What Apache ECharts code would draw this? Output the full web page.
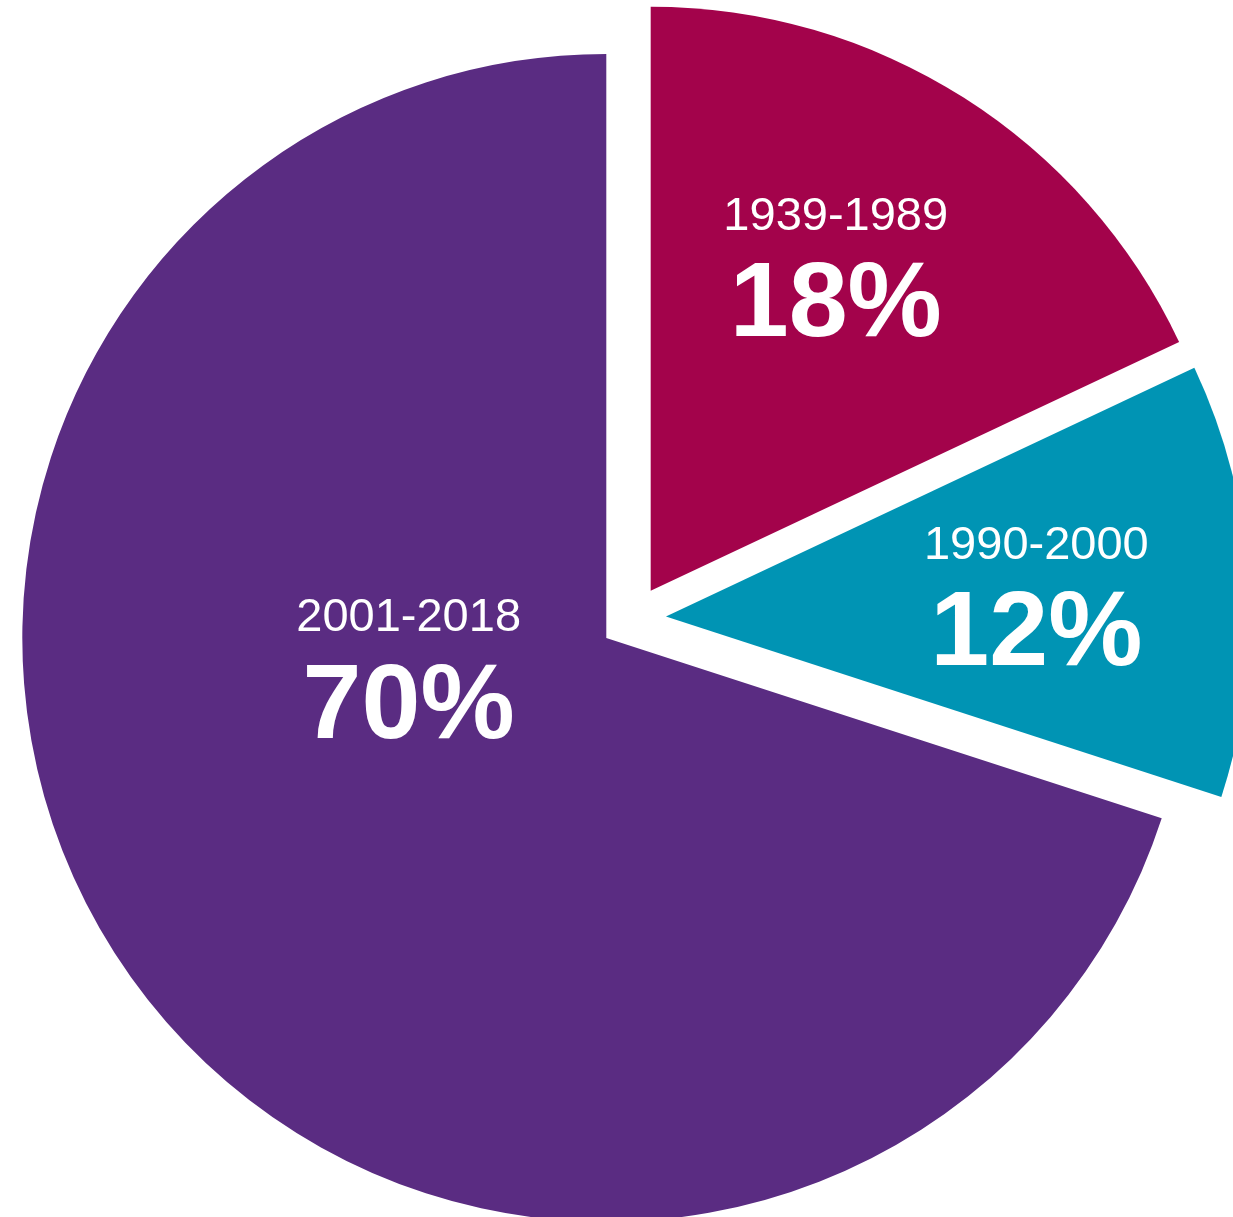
<!DOCTYPE html>
<html>
<head>
<meta charset="utf-8">
<script src="https://cdn.jsdelivr.net/npm/echarts@6/dist/echarts.min.js"></script>
<style>
html,body{margin:0;padding:0;background:#fff;}
#chart{width:1233px;height:1217px;}
</style>
</head>
<body>
<div id="chart"></div>
<script>
const categories = ['1939-1989', '1990-2000', '2001-2018'];
const values = [18, 12, 70];
const colors = ['#A3034B', '#0094B4', '#5A2C82'];
const labelShift = [[27, -60], [76, 13], [41, -128]];

const chart = echarts.init(document.getElementById('chart'), null, {renderer: 'canvas'});
chart.setOption({
  animation: false,
  series: [{
    type: 'pie',
    center: [633, 618.5],
    radius: 584,
    startAngle: 90,
    clockwise: true,
    selectedMode: 'multiple',
    selectedOffset: 33,
    emphasis: {disabled: true},
    select: {itemStyle: {}},
    avoidLabelOverlap: false,
    labelLine: {show: false},
    label: {
      show: true,
      position: 'inside',
      color: '#fff',
      fontFamily: '"Liberation Sans", Arial, sans-serif',
      formatter: p => '{a|' + p.name + '}\n{b|' + p.value + '%}',
      rich: {
        a: {fontSize: 47, lineHeight: 50, color: '#fff', fontFamily: '"Liberation Sans", Arial, sans-serif'},
        b: {fontSize: 106, lineHeight: 130, fontWeight: 'bold', color: '#fff', fontFamily: '"Liberation Sans", Arial, sans-serif'}
      }
    },
    labelLayout: p => ({dx: labelShift[p.dataIndex][0], dy: labelShift[p.dataIndex][1]}),
    data: categories.map((c, i) => ({
      name: c,
      value: values[i],
      selected: true,
      itemStyle: {color: colors[i]}
    }))
  }]
});
</script>
</body>
</html>
